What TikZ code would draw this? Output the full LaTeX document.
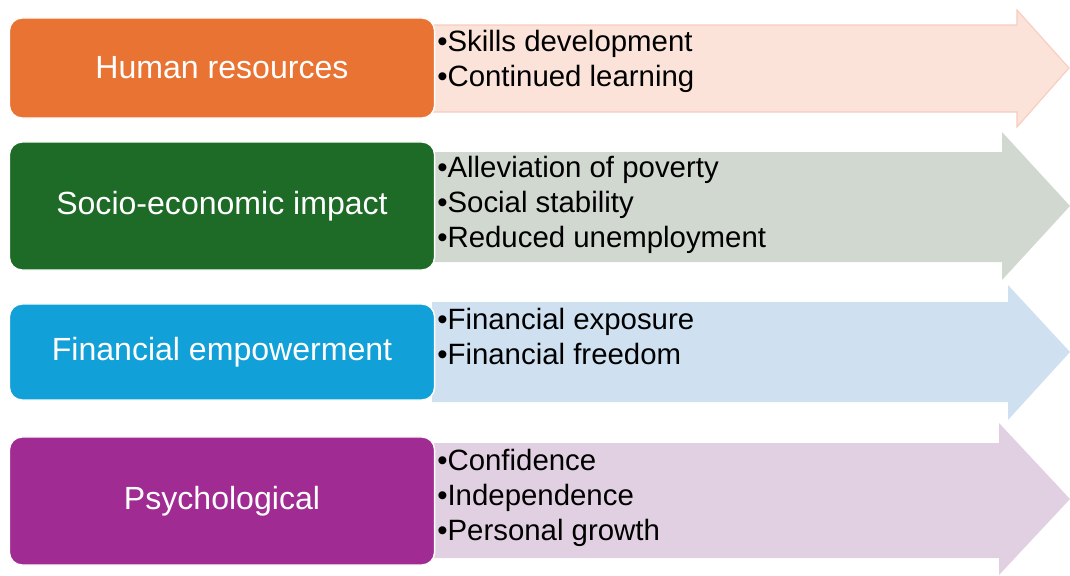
\documentclass[tikz,border=0pt]{standalone}
\usepackage{fontspec}
\setmainfont{Liberation Sans}
\usetikzlibrary{positioning}
\definecolor{hrorange}{RGB}{233,115,50}
\definecolor{hrpink}{RGB}{251,227,217}
\definecolor{hrpinkline}{RGB}{247,205,192}
\definecolor{segreen}{RGB}{29,107,38}
\definecolor{segrey}{RGB}{209,216,208}
\definecolor{feblue}{RGB}{17,160,215}
\definecolor{felight}{RGB}{207,225,240}
\definecolor{pspurple}{RGB}{160,43,146}
\definecolor{pslight}{RGB}{225,208,225}

\tikzset{
  catbox/.style={rounded corners=9pt, draw=white, line width=1pt, text=white,
    font=\fontsize{22.8}{27}\selectfont, minimum width=10.625cm},
  bullets/.style={anchor=north west, align=left, inner sep=0pt,
    font=\fontsize{20.9}{24.9}\selectfont},
  bigarrow/.style={line width=0.8pt, line join=miter}
}

\begin{document}
\begin{tikzpicture}[x=0.025cm, y=-0.025cm]
  \useasboundingbox (0,0) rectangle (1070,575);
  % --- Human resources ---
  \filldraw[bigarrow, fill=hrpink, draw=hrpinkline]
    (432,25) -- (1017,25) -- (1017,10) -- (1069,68) -- (1017,127) -- (1017,112) -- (432,112) -- cycle;
  \node[catbox, fill=hrorange, minimum height=2.5cm] (hr) at (222,68) {Human resources};
  \node[bullets] (hrlist) at (437,30) {\textbullet Skills development\\\textbullet Continued learning};
  % --- Socio-economic impact ---
  \fill[segrey]
    (432,152) -- (1002,152) -- (1002,132) -- (1070,206) -- (1002,280) -- (1002,262) -- (432,262) -- cycle;
  \node[catbox, fill=segreen, minimum height=3.2cm] (se) at (222,206) {Socio-economic impact};
  \node[bullets] (selist) at (437,156) {\textbullet Alleviation of poverty\\\textbullet Social stability\\\textbullet Reduced unemployment};
  % --- Financial empowerment ---
  \fill[felight]
    (432,302) -- (1008,302) -- (1008,285) -- (1070,352) -- (1008,420) -- (1008,402) -- (432,402) -- cycle;
  \node[catbox, fill=feblue, minimum height=2.4cm] (fe) at (222,352) {Financial empowerment};
  \node[bullets] (felist) at (437,308) {\textbullet Financial exposure\\\textbullet Financial freedom};
  % --- Psychological ---
  \fill[pslight]
    (432,443) -- (999,443) -- (999,423) -- (1070,499) -- (999,575) -- (999,558) -- (432,558) -- cycle;
  \node[catbox, fill=pspurple, minimum height=3.2cm] (ps) at (222,501) {Psychological};
  \node[bullets] (pslist) at (437,449) {\textbullet Confidence\\\textbullet Independence\\\textbullet Personal growth};
\end{tikzpicture}
\end{document}
